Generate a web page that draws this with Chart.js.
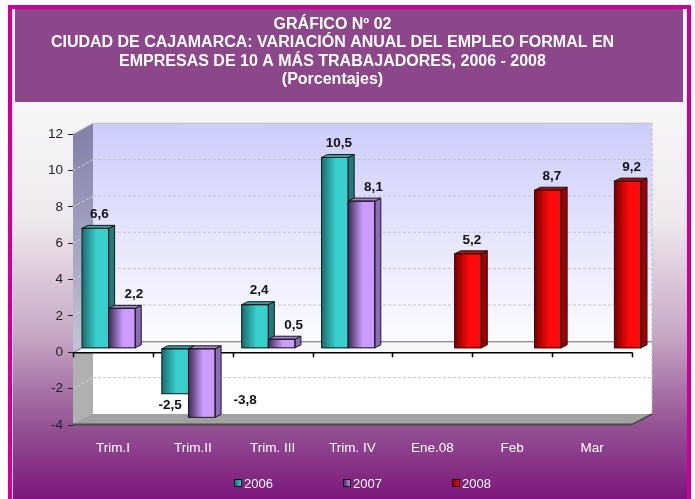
<!DOCTYPE html>
<html lang="es">
<head>
  <meta charset="UTF-8">
  <title>Gráfico Nº 02 - Empleo formal, Cajamarca</title>
  <script src="https://cdn.jsdelivr.net/npm/chart.js"></script>
  <style>
    html, body { margin: 0; padding: 0; background: #fff; }
    #grafico { display: block; }
  </style>
</head>
<body>
  <canvas id="grafico" width="695" height="499"></canvas>
<script>
// datos
const categorias = ["Trim.I", "Trim.II", "Trim. III", "Trim. IV", "Ene.08", "Feb", "Mar"];
const serie2006 = [6.6, -2.5, 2.4, 10.5, null, null, null];
const serie2007 = [2.2, -3.8, 0.5, 8.1, null, null, null];
const serie2008 = [null, null, null, null, 5.2, 8.7, 9.2];
const ticksY = [-4, -2, 0, 2, 4, 6, 8, 10, 12];
const titulo = [
  "GRÁFICO Nº 02",
  "CIUDAD DE CAJAMARCA: VARIACIÓN ANUAL DEL EMPLEO FORMAL EN",
  "EMPRESAS DE 10 A MÁS TRABAJADORES, 2006 - 2008",
  "(Porcentajes)"
];

// colores de cada serie: frente (oscuro -> claro), lado, tapa
const colores = [
  { osc: "#1b6c6c", cla: "#3acfcf", lado: "#1f7a7a", tapa: "#2fa6a6" },
  { osc: "#3b2c52", cla: "#cc9cff", lado: "#8a6cb8", tapa: "#a585d6" },
  { osc: "#780000", cla: "#ff0a0a", lado: "#a00000", tapa: "#d00000" }
];

const PARED = { dx: 20, dy: -11 };   // profundidad de las paredes
const BARRA = { dx: 9, dy: -4 };     // las barras estan a media profundidad
const FONDO = { dx: 6, dy: -3 };     // profundidad de cada barra
const FUENTE = "'Liberation Sans', Arial, sans-serif";

function poligono(ctx, pts, fill, stroke) {
  ctx.beginPath();
  ctx.moveTo(pts[0][0], pts[0][1]);
  for (let i = 1; i < pts.length; i++) ctx.lineTo(pts[i][0], pts[i][1]);
  ctx.closePath();
  if (fill) { ctx.fillStyle = fill; ctx.fill(); }
  if (stroke) { ctx.strokeStyle = stroke; ctx.lineWidth = 1; ctx.stroke(); }
}

function linea(ctx, x1, y1, x2, y2, color, w, dash) {
  ctx.save();
  ctx.beginPath();
  ctx.setLineDash(dash || []);
  ctx.strokeStyle = color;
  ctx.lineWidth = w || 1;
  ctx.moveTo(x1, y1);
  ctx.lineTo(x2, y2);
  ctx.stroke();
  ctx.restore();
}

// marco, panel degradado y caja del titulo
const fondoPlugin = {
  id: "fondo",
  beforeDraw(chart) {
    const { ctx, width, height } = chart;
    ctx.save();
    ctx.fillStyle = "#fff";
    ctx.fillRect(0, 0, width, height);
    ctx.fillStyle = "#cc0099";
    ctx.fillRect(8, 5, 683, height - 5);
    ctx.fillStyle = "#f4d6ec";
    ctx.fillRect(12, 9, 675, height - 9);
    const g = ctx.createLinearGradient(0, 102, 0, height);
    g.addColorStop(0, "#f7f7f7");
    g.addColorStop(0.3, "#efe9ee");
    g.addColorStop(0.58, "#c8aac6");
    g.addColorStop(0.82, "#935193");
    g.addColorStop(1, "#7c167c");
    ctx.fillStyle = g;
    ctx.fillRect(13, 9, 674, height - 9);
    ctx.fillStyle = "#8b4789";
    ctx.fillRect(15, 9, 668, 93);
    ctx.restore();
  }
};

// paredes 3D, piso, plano del cero; luego barras con volumen
const paredesPlugin = {
  id: "paredes",
  beforeDatasetsDraw(chart) {
    const { ctx, chartArea: a, scales: { x, y } } = chart;
    const y0 = y.getPixelForValue(0);
    const L = a.left, R = a.right, T = a.top, B = a.bottom;
    const dx = PARED.dx, dy = PARED.dy;
    ctx.save();
    // pared del fondo
    let g = ctx.createLinearGradient(0, T + dy, 0, y0 + dy);
    g.addColorStop(0, "#cdcdfc");
    g.addColorStop(1, "#fcfcff");
    ctx.fillStyle = g;
    ctx.fillRect(L + dx, T + dy, R - L, y0 - T);
    ctx.fillStyle = "#ffffff";
    ctx.fillRect(L + dx, y0 + dy, R - L, B - y0);
    // pared lateral
    g = ctx.createLinearGradient(0, T, 0, y0);
    g.addColorStop(0, "#8383ab");
    g.addColorStop(1, "#c4c4d6");
    poligono(ctx, [[L, T], [L + dx, T + dy], [L + dx, y0 + dy], [L, y0]], g);
    poligono(ctx, [[L, y0], [L + dx, y0 + dy], [L + dx, B + dy], [L, B]], "#b0b0b0");
    // lineas de division
    ticksY.forEach(v => {
      if (v === 0 || v === y.min || v === y.max) return;
      const py = y.getPixelForValue(v);
      linea(ctx, L, py, L + dx, py + dy, "#d4d4d4", 1, [3, 2]);
      linea(ctx, L + dx, py + dy, R + dx, py + dy, "#c4c4c4", 1, [3, 2]);
    });
    linea(ctx, L, T, L + dx, T + dy, "#c0c0c0", 1);
    linea(ctx, L + dx, T + dy, R + dx, T + dy, "#c0c0c0", 1);
    linea(ctx, R + dx, T + dy, R + dx, B + dy, "#bdbdbd", 1, [3, 2]);
    // plano del cero
    poligono(ctx, [[L, y0], [L + dx, y0 + dy], [R + dx, y0 + dy], [R, y0]], "#f8f8f8");
    linea(ctx, L + dx, y0 + dy + 0.5, R + dx, y0 + dy + 0.5, "#6a6a6a", 1);
    linea(ctx, L, y0 + 0.5, L + dx, y0 + dy + 0.5, "#6a6a6a", 1);
    // piso inferior
    poligono(ctx, [[L, B], [L + dx, B + dy], [R + dx, B + dy], [R, B]], "#a2a2a2");
    linea(ctx, L, B - 0.5, R, B - 0.5, "#4a4a4a", 2);
    linea(ctx, R, B - 0.5, R + dx, B + dy, "#4a4a4a", 1.5);
    // eje de categorias sobre el cero, con marcas
    linea(ctx, L, y0 + 0.5, R, y0 + 0.5, "#000", 1.5);
    const paso = (R - L) / categorias.length;
    for (let i = 0; i <= categorias.length; i++) {
      const px = Math.round(L + i * paso) + 0.5;
      linea(ctx, px, y0, px, y0 + 5, "#000", 1.5);
    }
    // las barras se dibujan desplazadas a media profundidad
    ctx.translate(BARRA.dx, BARRA.dy);
  },
  afterDatasetsDraw(chart) {
    const { ctx } = chart;
    for (let i = 0; i < categorias.length; i++) {
      chart.data.datasets.forEach((ds, d) => {
        if (ds.data[i] === null) return;
        const el = chart.getDatasetMeta(d).data[i];
        barra3D(ctx, el, colores[d]);
      });
    }
    ctx.restore();
  }
};

function barra3D(ctx, el, c) {
  const { x, y, base, width } = el.getProps(["x", "y", "base", "width"], true);
  const l = x - width / 2, r = x + width / 2;
  const top = Math.min(y, base), bot = Math.max(y, base);
  const dx = FONDO.dx, dy = FONDO.dy;
  const g = ctx.createLinearGradient(l, 0, r, 0);
  g.addColorStop(0, c.osc);
  g.addColorStop(0.55, c.cla);
  g.addColorStop(1, c.cla);
  ctx.fillStyle = g;
  ctx.fillRect(l, top, width, bot - top);
  poligono(ctx, [[r, top], [r + dx, top + dy], [r + dx, bot + dy], [r, bot]], c.lado, "#1a1a1a");
  poligono(ctx, [[l, top], [l + dx, top + dy], [r + dx, top + dy], [r, top]], c.tapa, "#1a1a1a");
  ctx.strokeStyle = "#1a1a1a";
  ctx.lineWidth = 1;
  ctx.strokeRect(l, top, width, bot - top);
}

// etiquetas de valores (formato con coma)
const etiquetasPlugin = {
  id: "etiquetas",
  afterDatasetsDraw(chart) {
    const { ctx, chartArea: a } = chart;
    ctx.save();
    ctx.font = "bold 13.5px " + FUENTE;
    ctx.fillStyle = "#111";
    ctx.textAlign = "center";
    ctx.textBaseline = "middle";
    chart.data.datasets.forEach((ds, d) => {
      chart.getDatasetMeta(d).data.forEach((el, i) => {
        const v = ds.data[i];
        if (v === null) return;
        const txt = v.toFixed(1).replace(".", ",");
        const bx = el.x + BARRA.dx, by = el.y + BARRA.dy;
        let px, py;
        if (v >= 0) {
          px = bx + (d === 1 ? 12 : 4);
          py = by - 14;
        } else {
          px = bx - 5;
          py = by + 12;
          if (py > a.bottom - 15) {       // no cabe debajo: va al costado
            px = bx + el.width / 2 + 30;
            py = by - 17;
          }
        }
        ctx.fillText(txt, px, py);
      });
    });
    ctx.restore();
  }
};

// leyenda abajo, centrada en el cuerpo 3D
const leyendaPlugin = {
  id: "leyenda",
  afterDraw(chart) {
    const { ctx, chartArea: a } = chart;
    ctx.save();
    ctx.font = "13px " + FUENTE;
    ctx.textBaseline = "middle";
    const caja = 8, sep = 2, hueco = 70;
    const items = chart.data.datasets.map((ds, d) => ({ txt: ds.label, c: colores[d], w: caja + sep + ctx.measureText(ds.label).width }));
    const total = items.reduce((s, it) => s + it.w, 0) + hueco * (items.length - 1);
    let px = (a.left + a.right + PARED.dx) / 2 - total / 2;
    const py = 483;
    items.forEach(it => {
      const g = ctx.createLinearGradient(px, 0, px + caja, 0);
      g.addColorStop(0, it.c.osc);
      g.addColorStop(1, it.c.cla);
      ctx.fillStyle = g;
      ctx.fillRect(px, py - caja / 2, caja, caja);
      ctx.strokeStyle = "#111";
      ctx.lineWidth = 1;
      ctx.strokeRect(px + 0.5, py - caja / 2 + 0.5, caja - 1, caja - 1);
      ctx.fillStyle = "#fff";
      ctx.fillText(it.txt, px + caja + sep, py + 1);
      px += it.w + hueco;
    });
    ctx.restore();
  }
};

const ctx = document.getElementById("grafico").getContext("2d");
new Chart(ctx, {
  type: "bar",
  data: {
    labels: categorias,
    datasets: [
      { label: "2006", data: serie2006, backgroundColor: colores[0].cla },
      { label: "2007", data: serie2007, backgroundColor: colores[1].cla },
      { label: "2008", data: serie2008, backgroundColor: colores[2].cla }
    ]
  },
  options: {
    responsive: false,
    animation: false,
    devicePixelRatio: 1,
    categoryPercentage: 1,
    barPercentage: 1,
    layout: { padding: { left: 33, right: 63, top: 0, bottom: 30 } },
    plugins: {
      legend: { display: false },
      tooltip: { enabled: false },
      title: {
        display: true,
        text: titulo,
        color: "#fff",
        font: { family: FUENTE, size: 16, weight: "bold", lineHeight: 1.16 },
        padding: { top: 15, bottom: 45 }
      }
    },
    scales: {
      x: {
        grid: { display: false },
        border: { display: false },
        ticks: { color: "#fff", font: { family: FUENTE, size: 13.5 }, padding: 7, maxRotation: 0, autoSkip: false },
        afterFit: s => { s.height = 44; }
      },
      y: {
        min: -4,
        max: 12,
        afterBuildTicks: s => { s.ticks = ticksY.map(v => ({ value: v })); },
        grid: { drawOnChartArea: false, drawTicks: true, tickLength: 5, color: "#222" },
        border: { display: true, color: "#222", width: 1, dash: [2, 2] },
        ticks: { color: "#222", font: { family: FUENTE, size: 13.5 }, padding: 5 },
        afterFit: s => { s.width = 40; }
      }
    }
  },
  plugins: [fondoPlugin, paredesPlugin, etiquetasPlugin, leyendaPlugin]
});
</script>
</body>
</html>
